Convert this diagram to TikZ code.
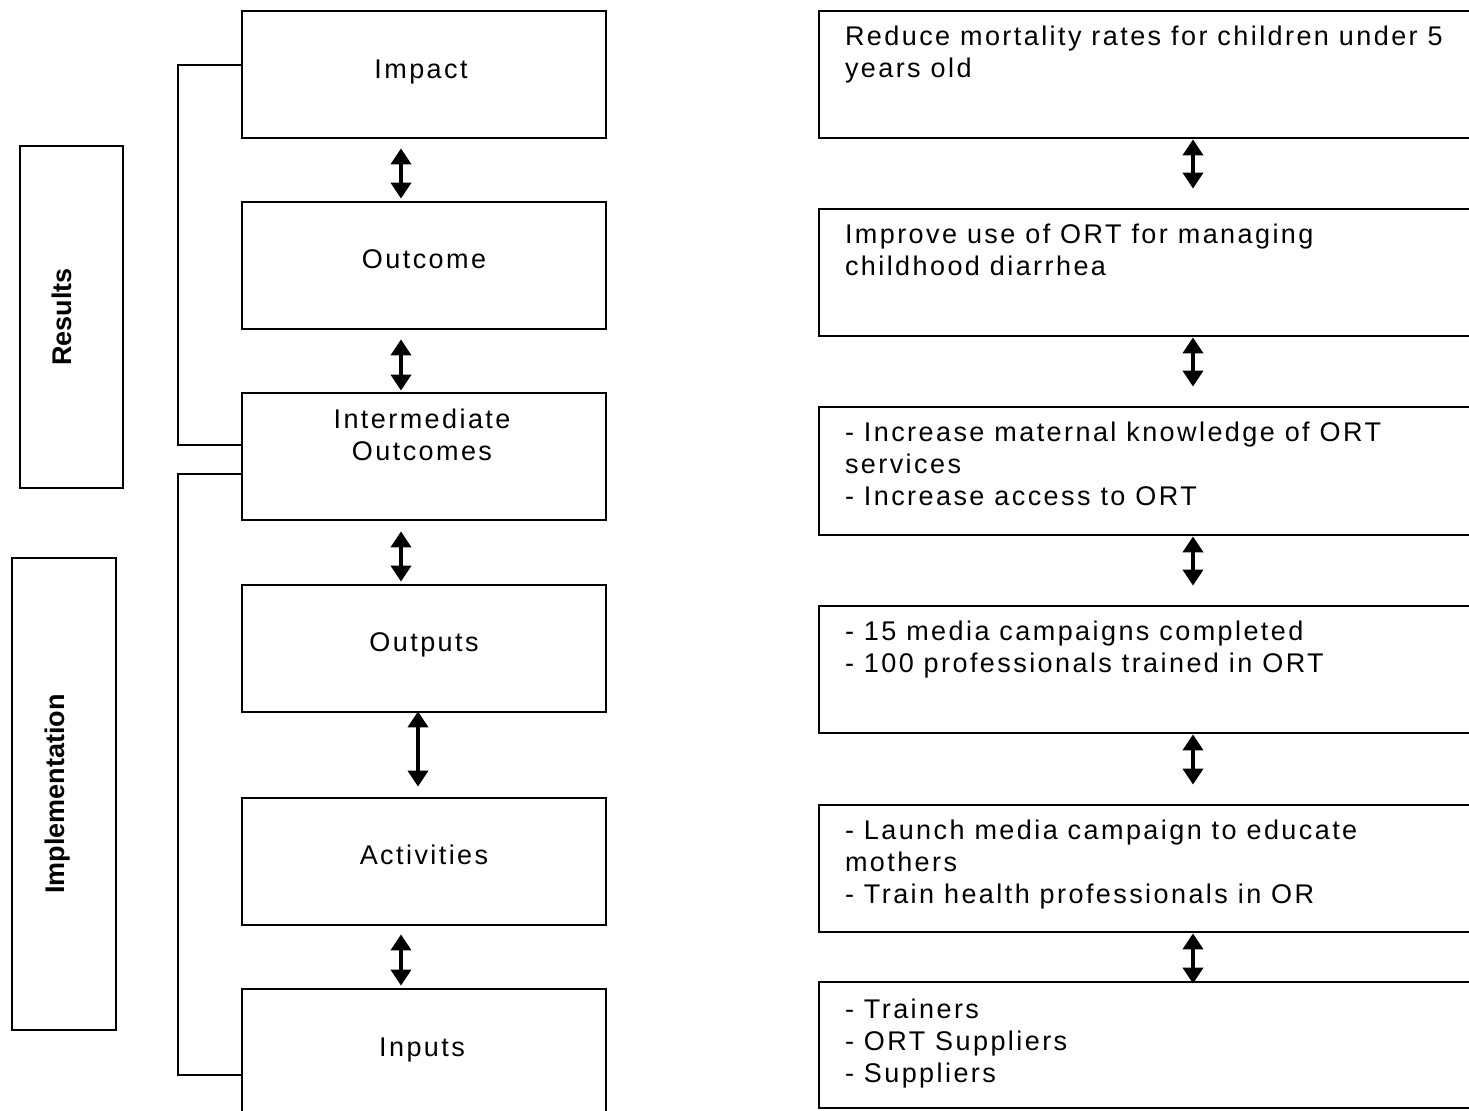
\documentclass[tikz,border=0pt]{standalone}
\usepackage{fontspec}
\setmainfont{Liberation Sans}
\newfontfamily\spacedfont{Liberation Sans}[LetterSpace=9]
\usetikzlibrary{arrows.meta}

\tikzset{
  lbox/.style={draw, line width=1.4pt, minimum width=182pt, minimum height=63.5pt, inner sep=0pt},
  rbox/.style={draw, line width=1.4pt, minimum width=330.5pt, minimum height=63.5pt, inner sep=0pt},
  sidebox/.style={draw, line width=1.4pt, inner sep=0pt},
  ltext/.style={font=\spacedfont\fontsize{13.5}{16}\selectfont, align=center, inner sep=0pt},
  rtext/.style={font=\spacedfont\fontsize{13.5}{16}\selectfont, align=left, anchor=north west, inner sep=0pt},
  stext/.style={font=\fontsize{13.5}{16}\selectfont\bfseries, rotate=90, inner sep=0pt},
  dbl/.style={{Triangle[length=8pt,width=10pt]}-{Triangle[length=8pt,width=10pt]}, line width=2pt},
  brk/.style={line width=1pt},
}

\begin{document}
\begin{tikzpicture}[x=0.5pt,y=-0.5pt]
\useasboundingbox (0,0) rectangle (1469,1111);
\clip (0,0) rectangle (1469,1111);

% left column
\node[lbox] (imp) at (424,74.5) {};
\node[lbox] (outc) at (424,265.5) {};
\node[lbox] (inter) at (424,456.5) {};
\node[lbox] (outp) at (424,648.5) {};
\node[lbox] (act) at (424,861.5) {};
\node[lbox] (inp) at (424,1052.5) {};
\node[ltext] (impt) at ([xshift=-1.5pt,yshift=-31pt]imp.north) {Impact};
\node[ltext] (outct) at ([yshift=-29.5pt]outc.north) {Outcome};
\node[ltext] (intert) at ([xshift=-1pt,yshift=-21.5pt]inter.north) {Intermediate\\Outcomes};
\node[ltext] (outpt) at ([yshift=-30.5pt]outp.north) {Outputs};
\node[ltext] (actt) at ([yshift=-29pt]act.north) {Activities};
\node[ltext] (inpt) at ([xshift=-1pt,yshift=-31pt]inp.north) {Inputs};

\draw[dbl, shorten <=4.5pt, shorten >=1pt] ([xshift=-11.5pt]imp.south) -- ([xshift=-11.5pt]outc.north);
\draw[dbl, shorten <=4.5pt, shorten >=0.5pt] ([xshift=-11.5pt]outc.south) -- ([xshift=-11.5pt]inter.north);
\draw[dbl, shorten <=5pt, shorten >=1pt] ([xshift=-11.5pt]inter.south) -- ([xshift=-11.5pt]outp.north);
\draw[dbl, shorten <=-1pt, shorten >=5pt] ([xshift=-3pt]outp.south) -- ([xshift=-3pt]act.north);
\draw[dbl, shorten <=4pt, shorten >=1pt] ([xshift=-11.5pt]act.south) -- ([xshift=-11.5pt]inp.north);

% brackets
\draw[brk] ([yshift=4.75pt]imp.west) -- ++(-63,0) |- ([yshift=5.75pt]inter.west);
\draw[brk] ([yshift=-8.75pt]inter.west) -- ++(-63,0) |- ([yshift=-11.25pt]inp.west);

% side boxes
\node[sidebox, minimum width=51.5pt, minimum height=171pt] (res) at (71.5,317) {};
\node[sidebox, minimum width=52pt, minimum height=236pt] (impl) at (64,794) {};
\node[stext] (rest) at ([xshift=-4.75pt]res.center) {Results};
\node[stext] (implt) at ([xshift=-3pt]impl.center) {Implementation};

% right column
\node[rbox] (r1) at (1149.5,74.5) {};
\node[rbox] (r2) at (1149.5,272.5) {};
\node[rbox, minimum height=64pt] (r3) at (1149.5,471) {};
\node[rbox] (r4) at (1149.5,669.5) {};
\node[rbox] (r5) at (1149.5,868.5) {};
\node[rbox, minimum height=63pt] (r6) at (1149.5,1045) {};
\node[rtext] (r1t) at ([xshift=13.5pt,yshift=-8pt]r1.north west) {Reduce mortality rates for children under 5\\years old};
\node[rtext] (r2t) at ([xshift=13.5pt,yshift=-8pt]r2.north west) {Improve use of ORT for managing\\childhood diarrhea};
\node[rtext] (r3t) at ([xshift=13.5pt,yshift=-8pt]r3.north west) {- Increase maternal knowledge of ORT\\services\\- Increase access to ORT};
\node[rtext] (r4t) at ([xshift=13.5pt,yshift=-8pt]r4.north west) {- 15 media campaigns completed\\- 100 professionals trained in ORT};
\node[rtext] (r5t) at ([xshift=13.5pt,yshift=-8pt]r5.north west) {- Launch media campaign to educate\\mothers\\- Train health professionals in OR};
\node[rtext] (r6t) at ([xshift=13.5pt,yshift=-9pt]r6.north west) {- Trainers\\- ORT Suppliers\\- Suppliers};

\draw[dbl] ([xshift=21.75pt]r1.south) -- ([xshift=21.75pt,yshift=9.5pt]r2.north);
\draw[dbl] ([xshift=21.75pt]r2.south) -- ([xshift=21.75pt,yshift=9.5pt]r3.north);
\draw[dbl] ([xshift=21.75pt]r3.south) -- ([xshift=21.75pt,yshift=9.5pt]r4.north);
\draw[dbl] ([xshift=21.75pt]r4.south) -- ([xshift=21.75pt,yshift=9.5pt]r5.north);
\draw[dbl, shorten >=-1.5pt] ([xshift=21.75pt]r5.south) -- ([xshift=21.75pt]r6.north);
\end{tikzpicture}
\end{document}
